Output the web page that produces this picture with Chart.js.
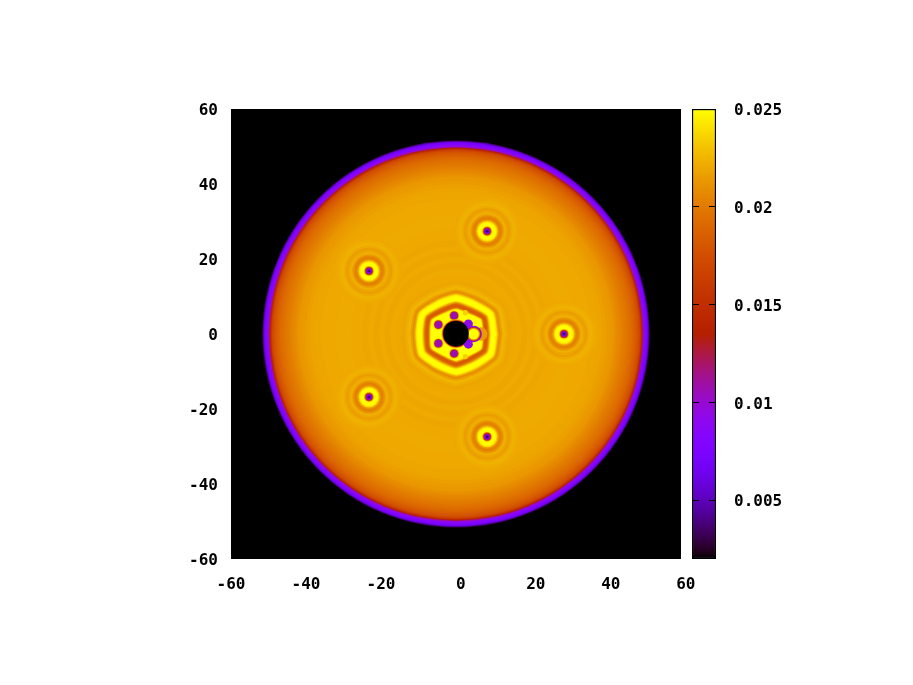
<!DOCTYPE html>
<html>
<head>
<meta charset="utf-8">
<style>
    body { margin: 0; background: #fff; }
    .box { position: absolute; top: 0; height: 685px; }
    #mapBox { left: 0; width: 913px; }
    #barBox { left: 685px; width: 228px; }
</style>
<script src="https://cdn.jsdelivr.net/npm/chart.js@4"></script>
</head>
<body>
<div class="box" id="mapBox"><canvas id="mapChart"></canvas></div>
<div class="box" id="barBox"><canvas id="barChart"></canvas></div>
<script>
// tick labels (leading space keeps the digits where the original has them)
const xTickLabels = ["-60", "-40", "-20", " 0", " 20", " 40", " 60"];
const yTickLabels = ["-60", "-40", "-20", "0", "20", "40", "60"];
const cbTicks = [0.005, 0.01, 0.015, 0.02, 0.025];
const cbMin = 0.002;
const cbMax = 0.025;

// big disc, radial profile, outside to inside
const discRadius = [51.8, 51.6, 51.4, 51.2, 51, 50.7, 50.4, 50.1, 49.9, 49.7, 49.5, 49.3, 49.1, 48.8, 48.4, 48, 47.5, 47, 46.5, 46, 45.5, 45, 44.5, 44, 43.5, 43, 42.5, 42, 41, 40, 39, 38, 36, 32, 28, 25, 23.5, 22, 20.5, 19, 17.5, 16];
const discValue = [0.002, 0.0035, 0.005, 0.0065, 0.0075, 0.008, 0.0088, 0.0098, 0.0115, 0.0135, 0.015, 0.0162, 0.017, 0.0176, 0.0181, 0.0185, 0.0189, 0.0192, 0.0195, 0.0197, 0.0199, 0.0201, 0.0203, 0.0205, 0.0207, 0.0209, 0.0211, 0.0213, 0.0215, 0.0217, 0.0218, 0.0219, 0.022, 0.0221, 0.022, 0.0219, 0.0221, 0.0219, 0.0221, 0.0219, 0.0221, 0.022];

// the five outer vortices
const vortexX = [28.8, 8.3, -23.2, -23.2, 8.3];
const vortexY = [0, 27.4, 16.8, -16.8, -27.4];
const vortexRadius = [9, 8.2, 7.5, 6.8, 6.2, 5.6, 5, 4.6, 4.2, 3.8, 3.4, 3.1, 2.8, 2.5, 2.2, 1.8, 1.5, 1.25, 1.05, 0.85, 0.7, 0.55, 0.4, 0.25];
const vortexValue = [0.022, 0.0222, 0.0224, 0.0221, 0.0216, 0.0219, 0.0224, 0.0218, 0.0209, 0.0203, 0.0205, 0.0216, 0.0235, 0.0247, 0.025, 0.025, 0.0245, 0.021, 0.016, 0.0115, 0.009, 0.0065, 0.0045, 0.0035];

// wavy hexagon round the centre: outer edge of the yellow band every 30 degrees
const hexAngles = [0, 30, 60, 90, 120, 150, 180, 210, 240, 270, 300, 330];
const hexEdge = [10.9, 11.4, 10.1, 10.4, 10.1, 11.2, 10.6, 11.3, 10.4, 10.9, 10.5, 11.5];
// bands of the hexagon, distance from that edge and value
const bandOffset = [3.9, 3, 2.3, 1.5, 1, 0.6, 0.25, 0, -0.3, -1.1, -1.5, -1.8, -2.1, -2.4, -2.9, -3.2, -3.45, -3.7, -3.95];
const bandValue = [0.0219, 0.0222, 0.0225, 0.0216, 0.0208, 0.0218, 0.0235, 0.0245, 0.025, 0.025, 0.024, 0.022, 0.0198, 0.0185, 0.0182, 0.0195, 0.022, 0.0245, 0.025];

// spots inside the hexagon, painted in this order
const blobX = [6.6, 2.5, 2.5, -0.5, -4.7, -4.7, -0.5, -0.5, -4.7, -4.7, -0.5, -0.5, -4.7, -4.7, -0.5, 0, 0, 4.7, 4.7, 4.7, 3.3, 3.3, 4.7];
const blobY = [0, 5.7, -6, 4.9, 2.5, -2.5, -5.2, 4.9, 2.5, -2.5, -5.2, 4.9, 2.5, -2.5, -5.2, 0.1, 0.1, 0, 0, 0, 2.7, -2.7, 0];
const blobRadius = [1.8, 0.7, 0.7, 1.4, 1.4, 1.4, 1.4, 1.15, 1.15, 1.15, 1.15, 0.95, 0.95, 0.95, 0.95, 3.85, 3.6, 2.2, 1.85, 1.7, 1.2, 1.2, 1.4];
const blobValue = [0.0215, 0.0235, 0.0235, 0.0235, 0.0235, 0.0235, 0.0235, 0.0155, 0.0155, 0.0155, 0.0155, 0.0105, 0.0105, 0.0105, 0.0105, 0.022, 0.013, 0.0095, 0.015, 0.021, 0.009, 0.009, 0.025];
const holeRadius = 3.4;

// gnuplot palette rgbformulae 7,5,15
function paletteColor(v) {
    const t = Math.min(1, Math.max(0, (v - cbMin) / (cbMax - cbMin)));
    const r = Math.sqrt(t);
    const g = t * t * t;
    const b = Math.max(0, Math.sin(2 * Math.PI * t));
    return `rgb(${Math.round(r * 255)},${Math.round(g * 255)},${Math.round(b * 255)})`;
}

// circle layer: radius in axis units, turned into pixels by the x scale
function circleLayer(points) {
    return {
        type: "scatter",
        data: points,
        showLine: false,
        pointBorderWidth: 0,
        pointRadius: ctx => {
            const xs = ctx.chart.scales.x;
            return ctx.raw ? xs.getPixelForValue(ctx.raw.r) - xs.getPixelForValue(0) : 0;
        },
        pointBackgroundColor: ctx => ctx.raw ? paletteColor(ctx.raw.v) : "#000"
    };
}

function hexLayer(offset, value) {
    const points = hexAngles.concat([360]).map((deg, i) => {
        const r = hexEdge[i % hexEdge.length] + offset;
        const a = deg * Math.PI / 180;
        return { x: r * Math.cos(a), y: r * Math.sin(a) };
    });
    return {
        type: "scatter",
        data: points,
        showLine: true,
        tension: 0.2,
        fill: "shape",
        backgroundColor: paletteColor(value),
        borderWidth: 0,
        pointRadius: 0
    };
}

let layers = [];
layers.push(circleLayer(discRadius.map((r, i) => ({ x: 0, y: 0, r: r, v: discValue[i] }))));
bandOffset.forEach((o, i) => layers.push(hexLayer(o, bandValue[i])));
vortexX.forEach((vx, k) => {
    layers.push(circleLayer(vortexRadius.map((r, i) => ({ x: vx, y: vortexY[k], r: r, v: vortexValue[i] }))));
});
layers.push(circleLayer(blobX.map((x, i) => ({ x: x, y: blobY[i], r: blobRadius[i], v: blobValue[i] }))));
layers.push(circleLayer([{ x: 0, y: 0.1, r: holeRadius, v: cbMin }]));
// later layers on top
layers.forEach((d, i) => { d.order = layers.length - i; });

const blackPlot = {
    id: "blackPlot",
    beforeDatasetsDraw(chart) {
        const a = chart.chartArea;
        chart.ctx.fillStyle = "#000";
        chart.ctx.fillRect(a.left, a.top, a.width, a.height);
    }
};

const tickFont = { family: "'DejaVu Sans Mono'", size: 16, weight: "bold" };

Chart.defaults.animation = false;

new Chart(document.getElementById("mapChart"), {
    type: "scatter",
    data: { datasets: layers },
    plugins: [blackPlot],
    options: {
        responsive: true,
        maintainAspectRatio: false,
        events: [],
        layout: { padding: { top: 109, right: 232, left: 0, bottom: 0 } },
        plugins: { legend: { display: false }, tooltip: { enabled: false } },
        scales: {
            x: {
                type: "linear", min: -60, max: 60,
                afterFit: s => { s.height = 126; },
                grid: { display: false }, border: { display: false },
                ticks: {
                    stepSize: 20, color: "#000", font: tickFont, padding: 8, maxRotation: 0,
                    callback: (v) => xTickLabels[(v + 60) / 20]
                }
            },
            y: {
                type: "linear", min: -60, max: 60,
                afterFit: s => { s.width = 231; },
                grid: { display: false }, border: { display: false },
                ticks: {
                    stepSize: 20, color: "#000", font: tickFont, padding: 5, labelOffset: 2,
                    callback: (v) => yTickLabels[(v + 60) / 20]
                }
            }
        }
    }
});

// colour bar: one floating bar with the palette as gradient
new Chart(document.getElementById("barChart"), {
    type: "bar",
    data: {
        labels: ["cb"],
        datasets: [{
            data: [[cbMin, cbMax]],
            barPercentage: 1,
            categoryPercentage: 1,
            borderWidth: 1.5,
            borderColor: "#000",
            borderSkipped: false,
            backgroundColor: ctx => {
                const a = ctx.chart.chartArea;
                if (!a) return "#000";
                const g = ctx.chart.ctx.createLinearGradient(0, a.bottom, 0, a.top);
                for (let i = 0; i <= 64; i++) {
                    g.addColorStop(i / 64, paletteColor(cbMin + (cbMax - cbMin) * i / 64));
                }
                return g;
            }
        }]
    },
    options: {
        responsive: true,
        maintainAspectRatio: false,
        events: [],
        layout: { padding: { top: 109, bottom: 126, left: 7, right: 0 } },
        plugins: { legend: { display: false }, tooltip: { enabled: false } },
        scales: {
            x: { display: false },
            y: {
                position: "right", min: cbMin, max: cbMax,
                afterBuildTicks: s => { s.ticks = cbTicks.map(v => ({ value: v })); },
                afterFit: s => { s.width = 197; },
                grid: { color: "#000", lineWidth: 1, drawTicks: false, z: 1 },
                border: { display: false, dash: [7, 10, 7] },
                ticks: {
                    color: "#000", font: tickFont, padding: 18, autoSkip: false, labelOffset: 2,
                    callback: v => String(v)
                }
            }
        }
    }
});
</script>
</body>
</html>
